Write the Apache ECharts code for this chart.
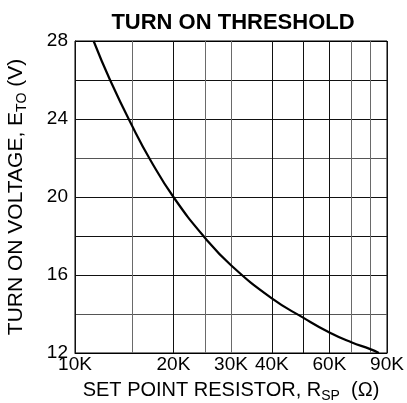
<!DOCTYPE html>
<html>
<head>
<meta charset="utf-8">
<script src="https://cdn.jsdelivr.net/npm/echarts@6/dist/echarts.min.js"></script>
<style>
  html, body { margin: 0; padding: 0; background: #fff; }
  #chart { width: 407px; height: 403px; }
</style>
</head>
<body>
<div id="chart"></div>
<script>
// curve: set point resistor (ohm) vs turn on voltage (V)
const resistance = [11400, 12800, 15000, 17000, 20000, 25000, 30000, 40000, 50000, 60000, 70000, 80000, 85000]
const voltage = [28, 26, 23.6, 21.9, 20, 17.9, 16.5, 14.8, 13.8, 13.05, 12.55, 12.2, 12]

// vertical grid lines and the ones that carry a label
const gridX = [10000, 15000, 20000, 25000, 30000, 40000, 50000, 60000, 70000, 80000, 90000]
const xTickValues = [10000, 20000, 30000, 40000, 60000, 90000]
const xTickLabels = ['10K', '20K', '30K', '40K', '60K', '90K']

// y ticks
const yMin = 12
const yMax = 28
const yStep = 2
const yLabelStep = 4

const FONT = 'Liberation Sans, Arial, sans-serif'
const lightX = [15000, 25000, 30000, 70000, 80000]

const chart = echarts.init(document.getElementById('chart'))

const vLines = gridX.map(v => {
  const i = xTickValues.indexOf(v)
  return {
    xAxis: v,
    lineStyle: { color: lightX.includes(v) ? '#6a6a6a' : '#111', width: 1, type: 'solid' },
    label: i < 0 ? { show: false } : {
      show: true,
      position: 'start',
      distance: 2,
      formatter: xTickLabels[i],
      color: '#000',
      fontSize: 19,
      fontFamily: FONT
    }
  }
})

chart.setOption({
  animation: false,
  title: {
    text: 'TURN ON THRESHOLD',
    left: 228,
    top: 7,
    textAlign: 'center',
    textStyle: { fontSize: 22, fontWeight: 'bold', color: '#000', fontFamily: FONT }
  },
  grid: {
    left: 75, right: 20, top: 41, bottom: 50,
    outerBoundsMode: 'none',
    containLabel: false,
    show: true, borderColor: '#000', borderWidth: 1
  },
  xAxis: {
    type: 'log',
    logBase: 10,
    min: 10000,
    max: 90000,
    axisLine: { show: true, lineStyle: { color: '#000', width: 1 } },
    axisTick: { show: false },
    axisLabel: { show: false },
    splitLine: { show: false },
    minorSplitLine: { show: false },
    name: 'SET POINT RESISTOR, R{sub|SP}  (Ω)',
    nameLocation: 'middle',
    nameGap: 24,
    nameTextStyle: {
      color: '#000', fontSize: 20, fontFamily: FONT,
      rich: { sub: { fontSize: 14, fontFamily: FONT, color: '#000', padding: [12, 0, 0, 0] } }
    }
  },
  yAxis: {
    type: 'value',
    min: yMin,
    max: yMax,
    interval: yStep,
    axisLine: { show: true, lineStyle: { color: '#000', width: 1 } },
    axisTick: { show: false },
    axisLabel: {
      color: '#000', fontSize: 19, fontFamily: FONT, margin: 7,
      formatter: v => (v % yLabelStep === 0 ? String(v) : '')
    },
    splitLine: {
      show: true,
      lineStyle: { color: ['#000', '#555', '#111', '#111', '#111', '#555', '#111', '#111', '#000'], width: 1 }
    },
    name: 'TURN ON VOLTAGE, E{sub|TO} (V)',
    nameLocation: 'middle',
    nameRotate: 90,
    nameGap: 46,
    nameTextStyle: {
      color: '#000', fontSize: 21, fontFamily: FONT,
      rich: { sub: { fontSize: 14, fontFamily: FONT, color: '#000', padding: [12, 0, 0, 0] } }
    }
  },
  series: [
    {
      type: 'line',
      data: resistance.map((r, i) => [r, voltage[i]]),
      smooth: 0.5,
      showSymbol: false,
      symbol: 'none',
      lineStyle: { color: '#000', width: 2.2 },
      z: 5,
      markLine: {
        silent: true,
        symbol: 'none',
        animation: false,
        data: vLines
      }
    }
  ]
})

window.addEventListener('resize', () => chart.resize())
</script>
</body>
</html>
